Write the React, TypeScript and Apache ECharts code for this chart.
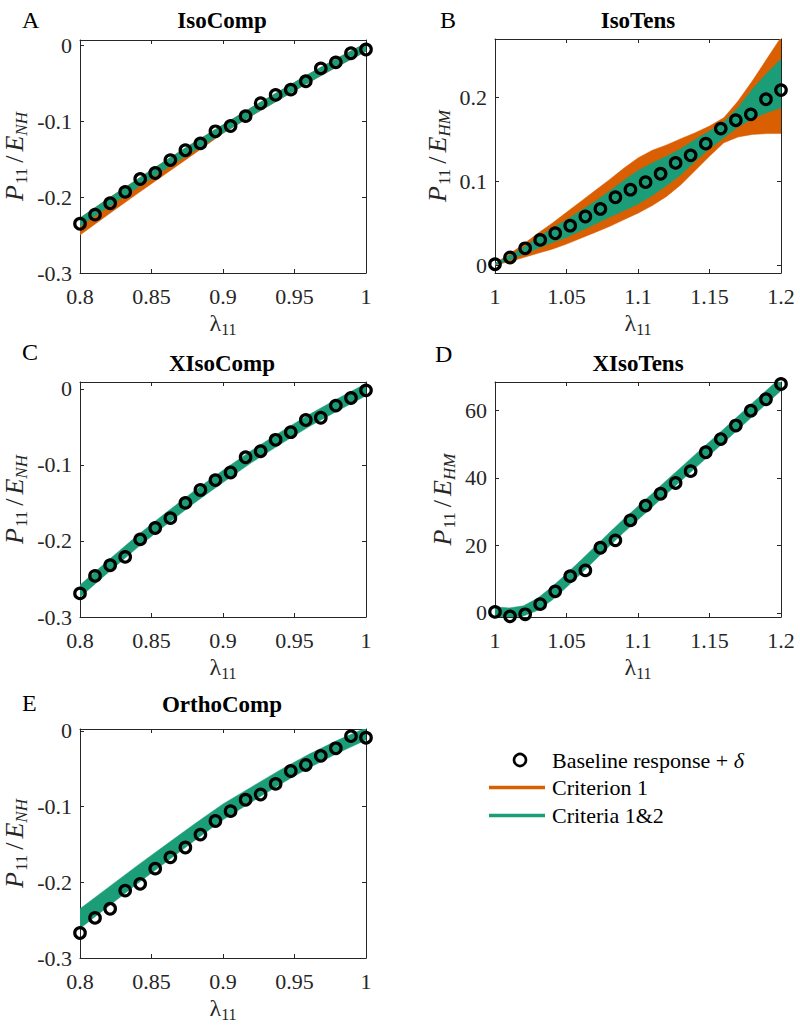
import React, { useEffect, useRef } from 'react';
import * as echarts from 'echarts';

// ---------- data ----------
const lamComp = [0.8, 0.8105, 0.8211, 0.8316, 0.8421, 0.8526, 0.8632, 0.8737, 0.8842, 0.8947, 0.9053, 0.9158, 0.9263, 0.9368, 0.9474, 0.9579, 0.9684, 0.9789, 0.9895, 1.0];
const lamTens = [1.0, 1.0105, 1.0211, 1.0316, 1.0421, 1.0526, 1.0632, 1.0737, 1.0842, 1.0947, 1.1053, 1.1158, 1.1263, 1.1368, 1.1474, 1.1579, 1.1684, 1.1789, 1.1895, 1.2];
const bandComp = [0.8, 0.82, 0.84, 0.86, 0.88, 0.9, 0.92, 0.94, 0.96, 0.98, 1.0];
const bandTens = [1.0, 1.01, 1.02, 1.03, 1.04, 1.05, 1.06, 1.07, 1.08, 1.09, 1.1, 1.11, 1.12, 1.13, 1.14, 1.15, 1.16, 1.17, 1.18, 1.19, 1.2];

const compXTicks = [0.8, 0.85, 0.9, 0.95, 1];
const tensXTicks = [1, 1.05, 1.1, 1.15, 1.2];
const compYTicks = [-0.3, -0.2, -0.1, 0];
const isoTensYTicks = [0, 0.1, 0.2];
const xIsoTensYTicks = [0, 20, 40, 60];

// A: IsoComp
const isoCompBase = [-0.235, -0.223, -0.208, -0.193, -0.176, -0.168, -0.151, -0.138, -0.129, -0.113, -0.106, -0.093, -0.076, -0.065, -0.058, -0.047, -0.030, -0.022, -0.010, -0.005];
const isoCompC1Lo = [-0.250, -0.2225, -0.1955, -0.169, -0.1425, -0.1155, -0.0925, -0.0705, -0.0485, -0.0275, -0.0075];
const isoCompC1Hi = [-0.2275, -0.2015, -0.1765, -0.1515, -0.1275, -0.1045, -0.0815, -0.0595, -0.0375, -0.0165, 0.0035];
const isoCompC12Lo = [-0.2385, -0.2125, -0.1875, -0.1625, -0.1385, -0.1155, -0.0925, -0.0705, -0.0485, -0.0275, -0.0075];
const isoCompC12Hi = [-0.2275, -0.2015, -0.1765, -0.1515, -0.1275, -0.1045, -0.0815, -0.0595, -0.0375, -0.0165, 0.0035];

// B: IsoTens
const isoTensBase = [0.001, 0.009, 0.020, 0.030, 0.038, 0.047, 0.058, 0.067, 0.081, 0.090, 0.099, 0.109, 0.122, 0.131, 0.145, 0.163, 0.173, 0.180, 0.198, 0.209];
const isoTensC1Lo = [0.000, 0.004, 0.009, 0.014, 0.019, 0.025, 0.032, 0.039, 0.046, 0.054, 0.062, 0.071, 0.082, 0.096, 0.113, 0.130, 0.146, 0.153, 0.156, 0.157, 0.157];
const isoTensC1Hi = [0.002, 0.013, 0.025, 0.038, 0.050, 0.063, 0.076, 0.089, 0.102, 0.1155, 0.128, 0.137, 0.1435, 0.151, 0.158, 0.166, 0.176, 0.196, 0.220, 0.246, 0.272];
const isoTensC12Lo = [0.000, 0.006, 0.013, 0.020, 0.027, 0.033, 0.041, 0.049, 0.057, 0.065, 0.073, 0.083, 0.095, 0.108, 0.124, 0.139, 0.152, 0.165, 0.175, 0.182, 0.188];
const isoTensC12Hi = [0.002, 0.011, 0.021, 0.033, 0.044, 0.054, 0.065, 0.076, 0.088, 0.101, 0.113, 0.122, 0.130, 0.139, 0.150, 0.160, 0.171, 0.188, 0.210, 0.229, 0.246];

// C: XIsoComp
const xIsoCompBase = [-0.269, -0.246, -0.232, -0.221, -0.198, -0.183, -0.170, -0.150, -0.133, -0.120, -0.110, -0.090, -0.082, -0.067, -0.057, -0.041, -0.038, -0.022, -0.012, -0.002];
const xIsoCompC12Lo = [-0.274, -0.241, -0.209, -0.179, -0.150, -0.123, -0.097, -0.073, -0.050, -0.029, -0.009];
const xIsoCompC12Hi = [-0.258, -0.225, -0.193, -0.163, -0.134, -0.107, -0.081, -0.057, -0.034, -0.013, 0.007];

// D: XIsoTens
const xIsoTensBase = [0.3, -1.0, -0.4, 2.6, 6.4, 10.9, 12.6, 19.3, 21.5, 27.4, 31.8, 35.3, 38.5, 42.0, 47.6, 51.5, 55.5, 59.9, 63.3, 67.8];
const xIsoTensC12Lo = [-1.2, -1.5, -0.9, 0.8, 3.8, 7.6, 11.6, 15.7, 19.8, 23.8, 27.6, 31.4, 35.3, 39.1, 42.9, 46.7, 50.5, 54.3, 58.2, 62.0, 65.8];
const xIsoTensC12Hi = [1.8, 1.5, 2.1, 4.4, 7.8, 11.6, 15.6, 19.7, 23.8, 27.8, 31.6, 35.4, 39.3, 43.1, 46.9, 50.7, 54.5, 58.3, 62.2, 66.0, 69.8];

// E: OrthoComp
const orthoCompBase = [-0.267, -0.247, -0.235, -0.211, -0.202, -0.182, -0.167, -0.154, -0.137, -0.119, -0.106, -0.091, -0.084, -0.070, -0.053, -0.045, -0.033, -0.023, -0.007, -0.009];
const orthoCompC12Lo = [-0.261, -0.2315, -0.202, -0.1735, -0.145, -0.1175, -0.094, -0.0705, -0.049, -0.0295, -0.012];
const orthoCompC12Hi = [-0.235, -0.2065, -0.178, -0.1505, -0.123, -0.0965, -0.074, -0.0515, -0.031, -0.0125, 0.004];

const panelTitles = ['IsoComp', 'IsoTens', 'XIsoComp', 'XIsoTens', 'OrthoComp'];
const panelLetters = ['A', 'B', 'C', 'D', 'E'];
const legendNames = ['Baseline response + ', 'Criterion 1', 'Criteria 1&2'];

// ---------- styling ----------
const FONT = "Liberation Serif";
const INK = '#262626';
const ORANGE = '#d95f02';
const GREEN = '#1b9e77';

const yRich = {
  i: { fontFamily: FONT, fontStyle: 'italic', fontSize: 26, color: INK, lineHeight: 32, verticalAlign: 'middle' },
  s: { fontFamily: FONT, fontSize: 17, color: INK, lineHeight: 17, verticalAlign: 'bottom', padding: [0, 1, 0, 1] },
  si: { fontFamily: FONT, fontStyle: 'italic', fontSize: 17, color: INK, lineHeight: 17, verticalAlign: 'bottom' },
  r: { fontFamily: FONT, fontSize: 26, color: INK, lineHeight: 32, verticalAlign: 'middle', padding: [0, 4, 0, 4] },
};
const xRich = {
  l: { fontFamily: FONT, fontSize: 24, color: INK, lineHeight: 28, verticalAlign: 'middle' },
  s: { fontFamily: FONT, fontSize: 16, color: INK, lineHeight: 16, verticalAlign: 'bottom' },
};

type Panel = {
  grid: any; xMin: number; xMax: number; xTicks: number[]; yMin: number; yMax: number; yTicks: number[];
  sub: string; nameGap: number; xs: number[]; ys: number[]; bx: number[];
  orange?: [number[], number[]]; green: [number[], number[]];
};

const panels: Panel[] = [
  { grid: { left: 78, top: 40, width: 288, height: 233 }, xMin: 0.8, xMax: 1, xTicks: compXTicks, yMin: -0.3, yMax: 0.0075, yTicks: compYTicks, sub: 'NH', nameGap: 50, xs: lamComp, ys: isoCompBase, bx: bandComp, orange: [isoCompC1Lo, isoCompC1Hi], green: [isoCompC12Lo, isoCompC12Hi] },
  { grid: { left: 495, top: 39, width: 286, height: 234 }, xMin: 1, xMax: 1.2, xTicks: tensXTicks, yMin: -0.0095, yMax: 0.27, yTicks: isoTensYTicks, sub: 'HM', nameGap: 42, xs: lamTens, ys: isoTensBase, bx: bandTens, orange: [isoTensC1Lo, isoTensC1Hi], green: [isoTensC12Lo, isoTensC12Hi] },
  { grid: { left: 78, top: 382, width: 288, height: 235 }, xMin: 0.8, xMax: 1, xTicks: compXTicks, yMin: -0.3, yMax: 0.009, yTicks: compYTicks, sub: 'NH', nameGap: 50, xs: lamComp, ys: xIsoCompBase, bx: bandComp, green: [xIsoCompC12Lo, xIsoCompC12Hi] },
  { grid: { left: 495, top: 382, width: 286, height: 235 }, xMin: 1, xMax: 1.2, xTicks: tensXTicks, yMin: -1.2, yMax: 68.4, yTicks: xIsoTensYTicks, sub: 'HM', nameGap: 37, xs: lamTens, ys: xIsoTensBase, bx: bandTens, green: [xIsoTensC12Lo, xIsoTensC12Hi] },
  { grid: { left: 78, top: 729, width: 288, height: 229 }, xMin: 0.8, xMax: 1, xTicks: compXTicks, yMin: -0.3, yMax: 0.0025, yTicks: compYTicks, sub: 'NH', nameGap: 50, xs: lamComp, ys: orthoCompBase, bx: bandComp, green: [orthoCompC12Lo, orthoCompC12Hi] },
];

const titlePos = [[222, 20.5], [638, 20.5], [222, 363], [638, 363.5], [222, 704]];
const letterPos = [[22, 19.5], [440, 19.5], [22, 351.5], [435, 353.5], [22, 702.5]];

function bandSeries(gi: number, xs: number[], lo: number[], hi: number[], color: string, name: string) {
  return {
    type: 'custom',
    name,
    xAxisIndex: gi * 2,
    yAxisIndex: gi * 2,
    clip: true,
    silent: true,
    data: [[xs[0], lo[0]]],
    renderItem: (_params: any, api: any) => {
      const pts: number[][] = [];
      for (let k = 0; k < xs.length; k++) pts.push(api.coord([xs[k], hi[k]]));
      for (let k = xs.length - 1; k >= 0; k--) pts.push(api.coord([xs[k], lo[k]]));
      return { type: 'polygon', shape: { points: pts }, style: { fill: color, stroke: color, lineWidth: 0.5 } };
    },
  };
}

function label(text: string, x: number, y: number, align: string, textStyle: any) {
  return {
    text, left: x, top: y, textAlign: align, textVerticalAlign: 'middle', padding: 0, itemGap: 0,
    textStyle: { fontFamily: FONT, color: '#000', ...textStyle },
  };
}

function buildOption() {
  const grid: any[] = [];
  const xAxis: any[] = [];
  const yAxis: any[] = [];
  const series: any[] = [];
  const graphic: any[] = [];
  const title: any[] = [];

  panels.forEach((p, gi) => {
    grid.push({ ...p.grid, containLabel: false });
    const lineCommon = { show: true, onZero: false, lineStyle: { color: INK, width: 1 } };
    const xBase = {
      gridIndex: gi, type: 'value', min: p.xMin, max: p.xMax,
      splitLine: { show: false }, axisLine: lineCommon,
      axisTick: { show: true, inside: true, length: 4, customValues: p.xTicks, lineStyle: { color: INK, width: 1 } },
    };
    xAxis.push({
      ...xBase, position: 'bottom',
      axisLabel: { customValues: p.xTicks, margin: 12, fontSize: 22, fontFamily: FONT, color: INK },
      name: '{l|λ}{s|11}', nameLocation: 'middle', nameGap: 36,
      nameTextStyle: { fontFamily: FONT, color: INK, rich: xRich },
    });
    xAxis.push({ ...xBase, position: 'top', axisLabel: { show: false } });

    const yBase = {
      gridIndex: gi, type: 'value', min: p.yMin, max: p.yMax,
      splitLine: { show: false }, axisLine: lineCommon,
      axisTick: { show: true, inside: true, length: 4, customValues: p.yTicks, lineStyle: { color: INK, width: 1 } },
    };
    yAxis.push({
      ...yBase, position: 'left',
      axisLabel: { customValues: p.yTicks, margin: 8, fontSize: 22, fontFamily: FONT, color: INK },
      name: `{i|P}{s|11}{r|/}{i|E}{si|${p.sub}}`, nameLocation: 'middle', nameGap: p.nameGap,
      nameTextStyle: { fontFamily: FONT, color: INK, rich: yRich },
    });
    yAxis.push({ ...yBase, position: 'right', axisLabel: { show: false } });

    if (p.orange) series.push(bandSeries(gi, p.bx, p.orange[0], p.orange[1], ORANGE, legendNames[1]));
    series.push(bandSeries(gi, p.bx, p.green[0], p.green[1], GREEN, legendNames[2]));
    series.push({
      type: 'scatter', name: legendNames[0], xAxisIndex: gi * 2, yAxisIndex: gi * 2,
      clip: false, symbol: 'circle', symbolSize: 10.5, silent: true,
      itemStyle: { color: 'rgba(0,0,0,0)', borderColor: '#000', borderWidth: 3.2, opacity: 1 },
      data: p.xs.map((x, k) => [x, p.ys[k]]),
    });

    title.push(label(panelTitles[gi], titlePos[gi][0], titlePos[gi][1], 'center', { fontSize: 23, fontWeight: 'bold' }));
    title.push(label(panelLetters[gi], letterPos[gi][0], letterPos[gi][1], 'left', { fontSize: 24, fontWeight: 'normal' }));
  });

  // legend
  graphic.push({ type: 'circle', shape: { cx: 520, cy: 760, r: 6 }, style: { fill: '#fff', stroke: '#000', lineWidth: 2.6 } });
  graphic.push({ type: 'line', shape: { x1: 489, y1: 787.5, x2: 545, y2: 787.5 }, style: { stroke: ORANGE, lineWidth: 3.5 } });
  graphic.push({ type: 'line', shape: { x1: 489, y1: 815.5, x2: 545, y2: 815.5 }, style: { stroke: GREEN, lineWidth: 3.5 } });
  title.push(label(`{a|${legendNames[0]}}{i|δ}`, 552, 760, 'left', {
    fontSize: 22, fontWeight: 'normal',
    rich: {
      a: { fontFamily: FONT, fontSize: 22, color: '#000' },
      i: { fontFamily: FONT, fontSize: 22, fontStyle: 'italic', color: '#000' },
    },
  }));
  title.push(label(legendNames[1], 552, 787.5, 'left', { fontSize: 22, fontWeight: 'normal' }));
  title.push(label(legendNames[2], 552, 815.5, 'left', { fontSize: 22, fontWeight: 'normal' }));

  return {
    animation: false,
    backgroundColor: '#fff',
    title, grid, xAxis, yAxis, series, graphic,
  };
}

export default function App() {
  const ref = useRef<HTMLDivElement>(null);
  useEffect(() => {
    if (!ref.current) return;
    const chart = echarts.init(ref.current, undefined, { renderer: 'svg' });
    chart.setOption(buildOption() as any);
    return () => chart.dispose();
  }, []);
  return <div ref={ref} style={{ position: 'absolute', left: 0, top: 0, width: 800, height: 1026, background: '#fff' }} />;
}
